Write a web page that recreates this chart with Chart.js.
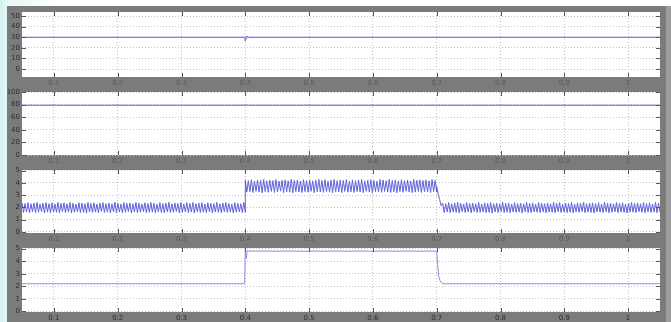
<!DOCTYPE html>
<html>
<head>
<meta charset="utf-8">
<script src="https://cdn.jsdelivr.net/npm/chart.js@4.4.1/dist/chart.umd.min.js"></script>
<style>
  html, body { margin: 0; padding: 0; }
  body {
    width: 671px; height: 322px; overflow: hidden; position: relative;
    background: linear-gradient(90deg, #d3f2ef 0px, #e6f7f6 7px, #ffffff 60px);
  }
  #frame { position: absolute; left: 7px; top: 6px; width: 659px; height: 316px; background: #7b7b7b; }
  #edge  { position: absolute; left: 666px; top: 6px; width: 5px; height: 316px; background: #9c9c9c; }
  canvas { position: absolute; left: 7px; }
</style>
</head>
<body>
<div id="frame"></div>
<div id="edge"></div>
<canvas id="row1"></canvas>
<canvas id="row2"></canvas>
<canvas id="row3"></canvas>
<canvas id="row4"></canvas>
<script>
// ---- time axis ----
const T_START = 0.05;
const T_END = 1.05;
const T_STEP_UP = 0.4;
const T_STEP_DOWN = 0.7;
const X_TICKS = [0.1, 0.2, 0.3, 0.4, 0.5, 0.6, 0.7, 0.8, 0.9, 1.0];

// ---- row 1 ----
const ROW1_TICKS = [0, 10, 20, 30, 40, 50];
const row1Time  = [0.05, 0.399, 0.4, 0.402, 0.405, 1.05];
const row1Value = [30, 30, 26.5, 30.8, 30, 30];

// ---- row 2 ----
const ROW2_TICKS = [0, 20, 40, 60, 80, 100];
const row2Time  = [0.05, 1.05];
const row2Value = [79, 79];

// ---- row 3 (rippled signal, three intervals) ----
const ROW3_TICKS = [0, 1, 2, 3, 4, 5];
const row3Before = [
  2.36,1.58,2.31,1.62,2.38,1.55,2.29,1.64,2.35,1.57,
  2.40,1.60,2.27,1.66,2.34,1.53,2.39,1.61,2.30,1.56,
  2.37,1.63,2.26,1.59,2.41,1.54,2.32,1.65,2.36,1.57,
  2.28,1.62,2.39,1.55,2.33,1.60,2.25,1.64,2.38,1.56,
  2.35,1.59,2.29,1.52,2.40,1.63,2.31,1.58,2.37,1.61,
  2.27,1.55,2.34,1.66,2.39,1.57,2.30,1.60,2.36,1.54,
  2.28,1.63,2.41,1.58,2.33,1.61,2.26,1.56,2.38,1.59,
  2.32,1.64,2.35,1.53,2.29,1.62,2.40,1.57,2.34,1.60,
  2.27,1.65,2.37,1.55,2.31,1.59,2.39,1.61,2.33,1.56,
  2.25,1.63,2.38,1.58,2.30,1.54,2.36,1.62,2.41,1.57,
  2.28,1.60,2.35,1.66,2.32,1.55,2.39,1.59,2.26,1.63,
  2.37,1.56,2.31,1.61,2.40,1.53,2.29,1.64,2.34,1.58,
  2.38,1.60,2.27,1.57,2.36,1.65,2.33,1.54,2.30,1.62,
  2.41,1.59,2.28,1.56,2.35,1.63,2.39,1.58,2.32,1.61,
  2.26,1.55,2.37,1.60,2.34,1.64,2.29,1.57,2.40,1.59];
const row3During = [
  4.22,3.24,4.18,3.29,4.26,3.21,4.15,3.31,4.24,3.26,
  4.20,3.19,4.28,3.28,4.16,3.23,4.23,3.30,4.19,3.22,
  4.27,3.25,4.14,3.32,4.21,3.20,4.25,3.27,4.17,3.24,
  4.29,3.18,4.20,3.30,4.23,3.26,4.15,3.21,4.26,3.28,
  4.18,3.23,4.24,3.31,4.16,3.20,4.22,3.27,4.28,3.25,
  4.19,3.22,4.25,3.29,4.13,3.24,4.21,3.19,4.27,3.28,
  4.17,3.26,4.23,3.21,4.20,3.30,4.26,3.23,4.15,3.27,
  4.24,3.22,4.18,3.29,4.22,3.25,4.28,3.20,4.16,3.31,
  4.21,3.24,4.25,3.18,4.19,3.28,4.14,3.26,4.27,3.22,
  4.23,3.30,4.17,3.25,4.29,3.21,4.20,3.27,4.24,3.19,
  4.16,3.29,4.26,3.23,4.18,3.32,4.22,3.26,4.15,3.20,
  4.28,3.24,4.21,3.30,4.25,3.22,4.19,3.28,4.23,3.25,
  4.17,3.21,4.27,3.29,4.20,3.24];
const row3After = [
  3.70,3.05,2.62,2.12,2.35,1.57,2.30,1.63,2.39,1.56,
  2.28,1.62,2.36,1.59,2.41,1.54,2.33,1.64,2.27,1.58,
  2.38,1.61,2.31,1.55,2.35,1.66,2.29,1.57,2.40,1.60,
  2.26,1.63,2.37,1.56,2.32,1.59,2.39,1.53,2.30,1.62,
  2.34,1.58,2.28,1.65,2.41,1.57,2.33,1.60,2.36,1.55,
  2.27,1.63,2.38,1.59,2.31,1.61,2.35,1.54,2.29,1.64,
  2.40,1.58,2.32,1.56,2.37,1.62,2.26,1.60,2.39,1.57,
  2.34,1.63,2.30,1.55,2.36,1.61,2.28,1.59,2.41,1.56,
  2.33,1.64,2.38,1.58,2.25,1.62,2.35,1.57,2.31,1.60,
  2.39,1.54,2.27,1.63,2.37,1.59,2.32,1.65,2.40,1.56,
  2.29,1.61,2.34,1.58,2.36,1.53,2.30,1.62,2.38,1.60,
  2.26,1.57,2.41,1.64,2.33,1.55,2.35,1.59,2.28,1.63,
  2.39,1.56,2.31,1.61,2.37,1.58,2.27,1.54,2.34,1.62,
  2.40,1.60,2.32,1.57,2.36,1.65,2.29,1.59,2.38,1.55,
  2.30,1.63,2.35,1.58,2.26,1.61,2.41,1.56,2.33,1.60];

// ---- row 4 ----
const ROW4_TICKS = [0, 1, 2, 3, 4, 5];
const row4Time  = [0.05, 0.399, 0.4, 0.4015, 0.403, 0.406, 0.7, 0.7015, 0.703, 0.706, 0.71, 1.05];
const row4Value = [2.2, 2.2, 4.95, 4.2, 4.85, 4.8, 4.8, 3.7, 2.8, 2.35, 2.2, 2.2];

// sample instants spread evenly over an interval
function sampled(values, t0, t1) {
  return values.map((v, i) => ({ x: t0 + (t1 - t0) * i / (values.length - 1), y: v }));
}
function paired(times, values) {
  return times.map((t, i) => ({ x: t, y: values[i] }));
}

const LINE = '#5b5bd8';
const FONT = { family: 'DejaVu Sans', size: 7 };

// white plotting area and inward tick marks on all four sides
const boxPlugin = {
  id: 'box',
  beforeDraw(chart) {
    const a = chart.chartArea, c = chart.ctx;
    c.save();
    c.fillStyle = '#ffffff';
    c.fillRect(a.left, a.top, a.right - a.left, a.bottom - a.top);
    c.restore();
  },
  afterDraw(chart) {
    const a = chart.chartArea, c = chart.ctx;
    const xs = chart.scales.x, ys = chart.scales.y;
    c.save();
    c.strokeStyle = '#555555';
    c.lineWidth = 1;
    c.beginPath();
    xs.ticks.forEach((t, i) => {
      const px = Math.round(xs.getPixelForTick(i)) + 0.5;
      c.moveTo(px, a.bottom); c.lineTo(px, a.bottom - 4);
      c.moveTo(px, a.top); c.lineTo(px, a.top + 4);
    });
    ys.ticks.forEach((t, i) => {
      const py = Math.round(ys.getPixelForTick(i)) + 0.5;
      c.moveTo(a.left, py); c.lineTo(a.left + 4, py);
      c.moveTo(a.right, py); c.lineTo(a.right - 4, py);
    });
    c.stroke();
    c.restore();
  }
};

function makeRow(id, top, bottom, yMin, yMax, yTicks, series, xLabelColor) {
  const cv = document.getElementById(id);
  const padTop = 6, xAxisH = 11;
  cv.width = 659;
  cv.height = (bottom - top) + padTop + xAxisH;
  cv.style.top = (top - padTop) + 'px';
  new Chart(cv, {
    type: 'line',
    data: {
      datasets: series.map(s => ({
        data: s.data,
        borderColor: s.color || LINE,
        borderWidth: 1,
        pointRadius: 0,
        tension: 0,
        fill: false
      }))
    },
    options: {
      responsive: false,
      animation: false,
      events: [],
      layout: { padding: { top: padTop, right: 6, bottom: 0, left: 0 } },
      plugins: { legend: { display: false }, tooltip: { enabled: false } },
      scales: {
        x: {
          type: 'linear',
          min: T_START, max: T_END,
          afterBuildTicks: s => { s.ticks = X_TICKS.map(v => ({ value: v })); },
          afterFit: s => { s.height = xAxisH; s.paddingLeft = 0; s.paddingRight = 0; },
          grid: { color: '#c4c4c4', lineWidth: 1, drawTicks: false },
          border: { display: false, dash: [1, 2] },
          ticks: { font: FONT, color: xLabelColor, padding: 2, maxRotation: 0,
                   callback: v => String(Math.round(v * 10) / 10) }
        },
        y: {
          type: 'linear',
          min: yMin, max: yMax,
          afterBuildTicks: s => { s.ticks = yTicks.map(v => ({ value: v })); },
          afterFit: s => { s.width = 15; s.paddingTop = 0; s.paddingBottom = 0; },
          grid: { color: '#c4c4c4', lineWidth: 1, drawTicks: false },
          border: { display: false, dash: [1, 2] },
          ticks: { font: FONT, color: '#2e2e2e', padding: 2 }
        }
      }
    },
    plugins: [boxPlugin]
  });
}

makeRow('row1', 12, 77, -7.5, 53.8, ROW1_TICKS,
  [{ data: paired(row1Time, row1Value) }], '#5a5a5a');

makeRow('row2', 92, 155, 0, 100, ROW2_TICKS,
  [{ data: paired(row2Time, row2Value) }], '#5a5a5a');

makeRow('row3', 170, 233, -0.1, 5.05, ROW3_TICKS, [
  { data: sampled(row3Before, T_START, T_STEP_UP)
          .concat(sampled(row3During, T_STEP_UP, T_STEP_DOWN))
          .concat(sampled(row3After, T_STEP_DOWN, T_END)),
    color: '#6262dc' }
], '#5a5a5a');

makeRow('row4', 248, 312, -0.05, 5.05, ROW4_TICKS,
  [{ data: paired(row4Time, row4Value), color: '#8c8ce6' }], '#2e2e2e');
</script>
</body>
</html>
